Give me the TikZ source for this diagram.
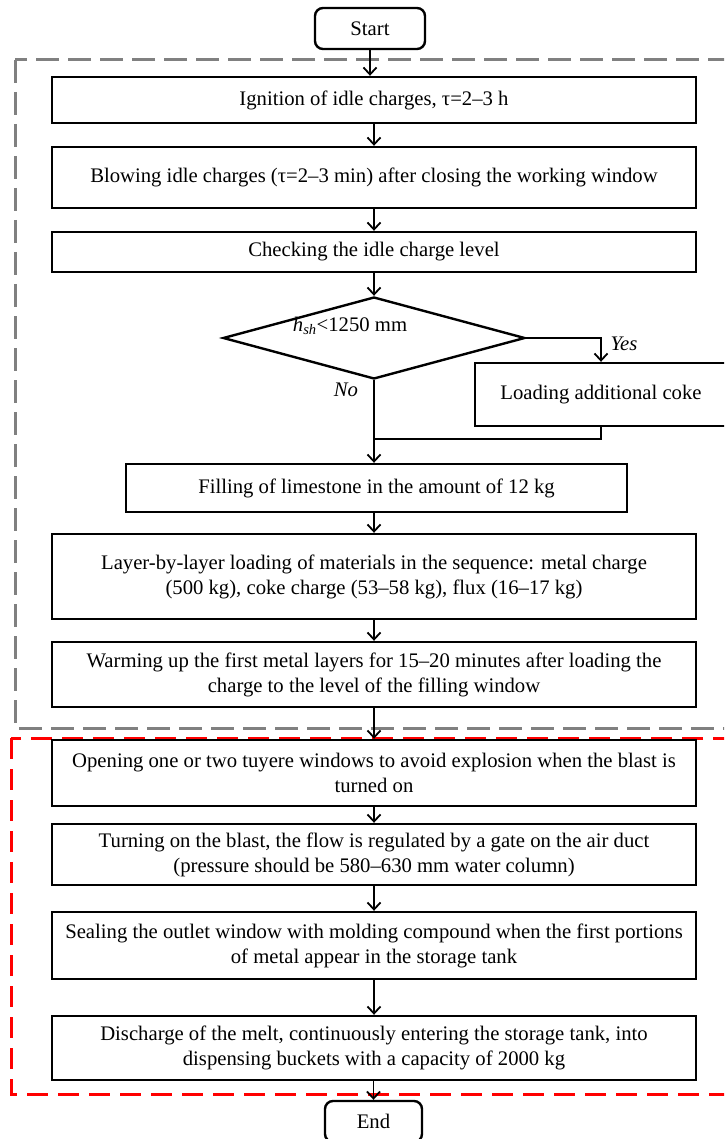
\documentclass[tikz,border=0pt]{standalone}
\usepackage{fontspec}
\setmainfont{Liberation Serif}
\usetikzlibrary{shapes.geometric,arrows.meta}
\begin{document}
\begin{tikzpicture}[x=1pt,y=-1pt,
  every node/.style={font=\fontsize{20.7}{25}\selectfont, inner sep=0pt},
  box/.style={draw=black, line width=2.4pt, rectangle, align=center},
  term/.style={box, rounded corners=8pt},
  flow/.style={line width=1.8pt, -{Straight Barb[length=7pt,width=13pt,line width=1.8pt]}},
  link/.style={line width=1.8pt},
  lbl/.style={font=\fontsize{20.7}{25}\selectfont\itshape},
  zone/.style={line width=3pt, dash pattern=on 23pt off 9pt}
]
\clip (0,0) rectangle (724,1139);

% stage frames
\draw[zone, draw=black!50] (15,60) rectangle (745,728);
\draw[zone, draw=red, dash pattern=on 21pt off 10pt] (11,738) rectangle (745,1094);

% terminals
\node[term, minimum width=110, minimum height=41] (start) at (370,28.5) {Start};
\node[term, minimum width=97, minimum height=41] (end) at (373.5,1121.5) {End};

% preparation steps
\node[box, minimum width=644, minimum height=46] (b1) at (374,100) {Ignition of idle charges, τ=2–3 h};
\node[box, minimum width=644, minimum height=61] (b2) at (374,177.5) {Blowing idle charges (τ=2–3 min) after closing the working window};
\node[box, minimum width=644, minimum height=40] (b3) at (374,252) {Checking the idle charge level};
\node[draw=black, line width=2.4pt, diamond, minimum width=302, minimum height=82] (dia) at (374,338) {};
\node (cond) at (350,326) {\textit{h}\textsubscript{\textit{sh}}<1250 mm};
\node[box, minimum width=252, minimum height=63] (coke) at (601,394.5) {Loading additional coke};
\node[box, minimum width=501, minimum height=48] (fill) at (376.5,488) {Filling of limestone in the amount of 12 kg};
\node[box, minimum width=644, minimum height=85] (layer) at (374,576.5) {Layer-by-layer loading of materials in the sequence: metal charge\\(500 kg), coke charge (53–58 kg), flux (16–17 kg)};
\node[box, minimum width=644, minimum height=65] (warm) at (374,674.5) {Warming up the first metal layers for 15–20 minutes after loading the\\charge to the level of the filling window};

% melting steps
\node[box, minimum width=644, minimum height=66] (open) at (374,773) {Opening one or two tuyere windows to avoid explosion when the blast is\\turned on};
\node[box, minimum width=644, minimum height=61] (turn) at (374,854.5) {Turning on the blast, the flow is regulated by a gate on the air duct\\(pressure should be 580–630 mm water column)};
\node[box, minimum width=644, minimum height=67] (seal) at (374,945.5) {Sealing the outlet window with molding compound when the first portions\\of metal appear in the storage tank};
\node[box, minimum width=644, minimum height=64] (disc) at (374,1048) {Discharge of the melt, continuously entering the storage tank, into\\dispensing buckets with a capacity of 2000 kg};

% branch labels
\node[lbl] (yes) at (624,344) {Yes};
\node[lbl] (no) at (346,390) {No};

% connectors
\coordinate (merge) at (dia.south |- 0,439);
\draw[flow] (start.south) -- (start.south |- b1.north);
\draw[flow] (b1) -- (b2);
\draw[flow] (b2) -- (b3);
\draw[flow] (b3) -- (dia);
\draw[flow] (dia.east) -| (coke.north);
\draw[link] (coke.south) |- (merge);
\draw[flow] (dia.south) -- (dia.south |- fill.north);
\draw[flow] (fill.south -| layer.north) -- (layer.north);
\draw[flow] (layer) -- (warm);
\draw[flow] (warm) -- (open);
\draw[flow] (open) -- (turn);
\draw[flow] (turn) -- (seal);
\draw[flow] (seal) -- (disc);
\draw[flow] (disc.south -| end.north) -- (end.north);
\end{tikzpicture}
\end{document}
